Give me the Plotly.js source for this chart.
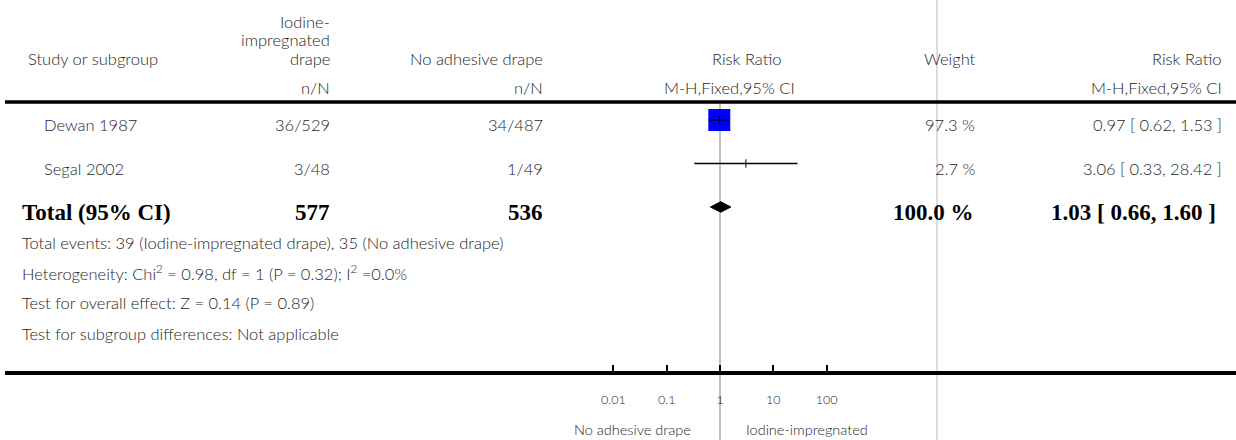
<!DOCTYPE html>
<html>
<head>
<meta charset="utf-8">
<script src="https://cdn.plot.ly/plotly-3.0.1.min.js"></script>
<style>html,body{margin:0;padding:0;background:#fff;}#chart{width:1236px;height:440px;}</style>
</head>
<body>
<div id="chart"></div>
<script>
// ---- data ----
const studies = ['Dewan 1987', 'Segal 2002'];
const expEvents = [36, 3];
const expTotal = [529, 48];
const ctrlEvents = [34, 1];
const ctrlTotal = [487, 49];
const weights = [97.3, 2.7];
const rr = [0.97, 3.06];
const rrLow = [0.62, 0.33];
const rrHigh = [1.53, 28.42];

const totalLabel = 'Total (95% CI)';
const totalExpN = 577;
const totalCtrlN = 536;
const totalWeight = 100.0;
const totalRR = 1.03;
const totalLow = 0.66;
const totalHigh = 1.60;

const expHeader = ['Iodine-', 'impregnated', 'drape'];
const ctrlName = 'No adhesive drape';
const footerLines = [
  'Total events: 39 (Iodine-impregnated drape), 35 (No adhesive drape)',
  'Heterogeneity: Chi<sup>2</sup> = 0.98, df = 1 (P = 0.32); I<sup>2</sup> =0.0%',
  'Test for overall effect: Z = 0.14 (P = 0.89)',
  'Test for subgroup differences: Not applicable'
];
const tickVals = [0.01, 0.1, 1, 10, 100];
const tickText = ['0.01', '0.1', '1', '10', '100'];
const favoursLeft = 'No adhesive drape';
const favoursRight = 'Iodine-impregnated';
const nullValue = 1;

// ---- layout helpers ----
const W = 1236, H = 440;
const px = v => v / W;
const py = v => 1 - v / H;
const NF = 'Lato, "Open Sans", sans-serif';
const BF = '"Liberation Serif", "DejaVu Serif", serif';
const TXT = '#1e1e1e';
const normalFont = {family: NF, size: 16.5, color: TXT, weight: 300};
const smallFont = {family: NF, size: 14.5, color: TXT, weight: 300};
const boldFont = {family: BF, size: 23, color: '#000', weight: 'bold'};

const rowY = studies.map((s, i) => i);
const totalRow = studies.length;
const textShift = -5;

const ann = [];
function pText(text, x, y, xanchor, font) {
  ann.push({text, x: px(x), y: py(y), xref: 'paper', yref: 'paper',
    xanchor, yanchor: 'middle', showarrow: false, font: font || normalFont});
}
function rText(text, x, row, xanchor, font) {
  ann.push({text, x: px(x), y: row, xref: 'paper', yref: 'y', xanchor, yanchor: 'middle',
    yshift: textShift, showarrow: false, font: font || normalFont});
}

// headers
pText('Study or subgroup', 26, 59, 'left');
const expHeadY = [22, 40, 59];
expHeader.forEach((t, i) => pText(t, 332, expHeadY[i], 'right'));
pText(ctrlName, 545, 59, 'right');
pText('Risk Ratio', 747, 59, 'center');
pText('Weight', 978, 59, 'right');
pText('Risk Ratio', 1224, 59, 'right');
pText('n/N', 332, 88, 'right');
pText('n/N', 545, 88, 'right');
pText('M-H,Fixed,95% CI', 729, 88, 'center');
pText('M-H,Fixed,95% CI', 1224, 88, 'right');

// rows
const f2 = v => v.toFixed(2);
studies.forEach((s, i) => {
  rText(s, 42, rowY[i], 'left');
  rText(expEvents[i] + '/' + expTotal[i], 332, rowY[i], 'right');
  rText(ctrlEvents[i] + '/' + ctrlTotal[i], 545, rowY[i], 'right');
  rText(weights[i].toFixed(1) + ' %', 977, rowY[i], 'right');
  rText(f2(rr[i]) + ' [ ' + f2(rrLow[i]) + ', ' + f2(rrHigh[i]) + ' ]', 1224, rowY[i], 'right');
});
rText(totalLabel, 20, totalRow, 'left', boldFont);
rText(String(totalExpN), 332, totalRow, 'right', boldFont);
rText(String(totalCtrlN), 545, totalRow, 'right', boldFont);
rText(totalWeight.toFixed(1) + ' %', 976, totalRow, 'right', boldFont);
rText(f2(totalRR) + ' [ ' + f2(totalLow) + ', ' + f2(totalHigh) + ' ]', 1218, totalRow, 'right', boldFont);

// footer
const footY = [243, 273, 303, 334];
footerLines.forEach((t, i) => pText(t, 20, footY[i], 'left'));

// favours labels
pText(favoursLeft, 632, 429, 'center', smallFont);
pText(favoursRight, 807, 429, 'center', smallFont);

// ---- traces ----
const maxBox = 22;
const maxW = Math.max(...weights);
const traces = [];
traces.push({type: 'scatter', mode: 'markers', x: rr, y: rowY, opacity: 1,
  marker: {symbol: 'square', color: '#0000ff', opacity: 1, size: weights.map(w => maxBox * w / maxW), line: {width: 0}},
  hoverinfo: 'skip'});
const ciX = [], ciY = [];
studies.forEach((s, i) => { ciX.push(rrLow[i], rrHigh[i], null); ciY.push(rowY[i], rowY[i], null); });
traces.push({type: 'scatter', mode: 'lines', x: ciX, y: ciY, line: {color: '#000', width: 1.3}, hoverinfo: 'skip'});
traces.push({type: 'scatter', mode: 'markers', x: rr, y: rowY,
  marker: {symbol: 'line-ns', size: 6, opacity: 1, line: {color: '#000', width: 1}}, hoverinfo: 'skip'});
const dh = 0.12;
traces.push({type: 'scatter', mode: 'lines', fill: 'toself', fillcolor: '#000',
  x: [totalLow, totalRR, totalHigh, totalRR, totalLow],
  y: [totalRow, totalRow - dh, totalRow, totalRow + dh, totalRow],
  line: {color: '#000', width: 1}, hoverinfo: 'skip'});

// ---- axes ----
const onePx = 720, decade = 53.33, axisStart = 5;
const xr = [(axisStart - onePx) / decade, (W - onePx) / decade];
const rowTopPx = 120, rowStep = 43.5;
const yr = [(H - rowTopPx) / rowStep, (0 - rowTopPx) / rowStep];

const layout = {
  width: W, height: H, margin: {l: 0, r: 0, t: 0, b: 0},
  paper_bgcolor: '#fff', plot_bgcolor: 'rgba(0,0,0,0)', showlegend: false,
  xaxis: {type: 'log', domain: [px(axisStart), 1], range: xr, autorange: false,
    anchor: 'free', position: 1 - 372 / H,
    showline: true, linecolor: '#000', linewidth: 3.5,
    showgrid: false, zeroline: false,
    ticks: 'inside', ticklen: 6, tickwidth: 2, tickcolor: '#000',
    tickvals: tickVals, ticktext: tickText, ticklabelstandoff: 14,
    tickfont: {family: NF, size: 12.5, color: TXT, weight: 300}, fixedrange: true},
  yaxis: {range: yr, autorange: false, domain: [0, 1], visible: false, fixedrange: true},
  shapes: [
    {type: 'line', xref: 'paper', yref: 'paper', x0: px(937), x1: px(937), y0: 0, y1: 1,
      line: {color: '#dcdcdc', width: 2}, layer: 'below'},
    {type: 'line', xref: 'x', yref: 'paper', x0: nullValue, x1: nullValue, y0: 0, y1: py(103),
      line: {color: '#aaaaaa', width: 1.5}, layer: 'below'},
    {type: 'line', xref: 'paper', yref: 'paper', x0: px(axisStart), x1: 1, y0: py(102), y1: py(102),
      line: {color: '#000', width: 3.5}}
  ],
  annotations: ann
};
Plotly.newPlot('chart', traces, layout, {staticPlot: true, displayModeBar: false});
</script>
</body>
</html>
